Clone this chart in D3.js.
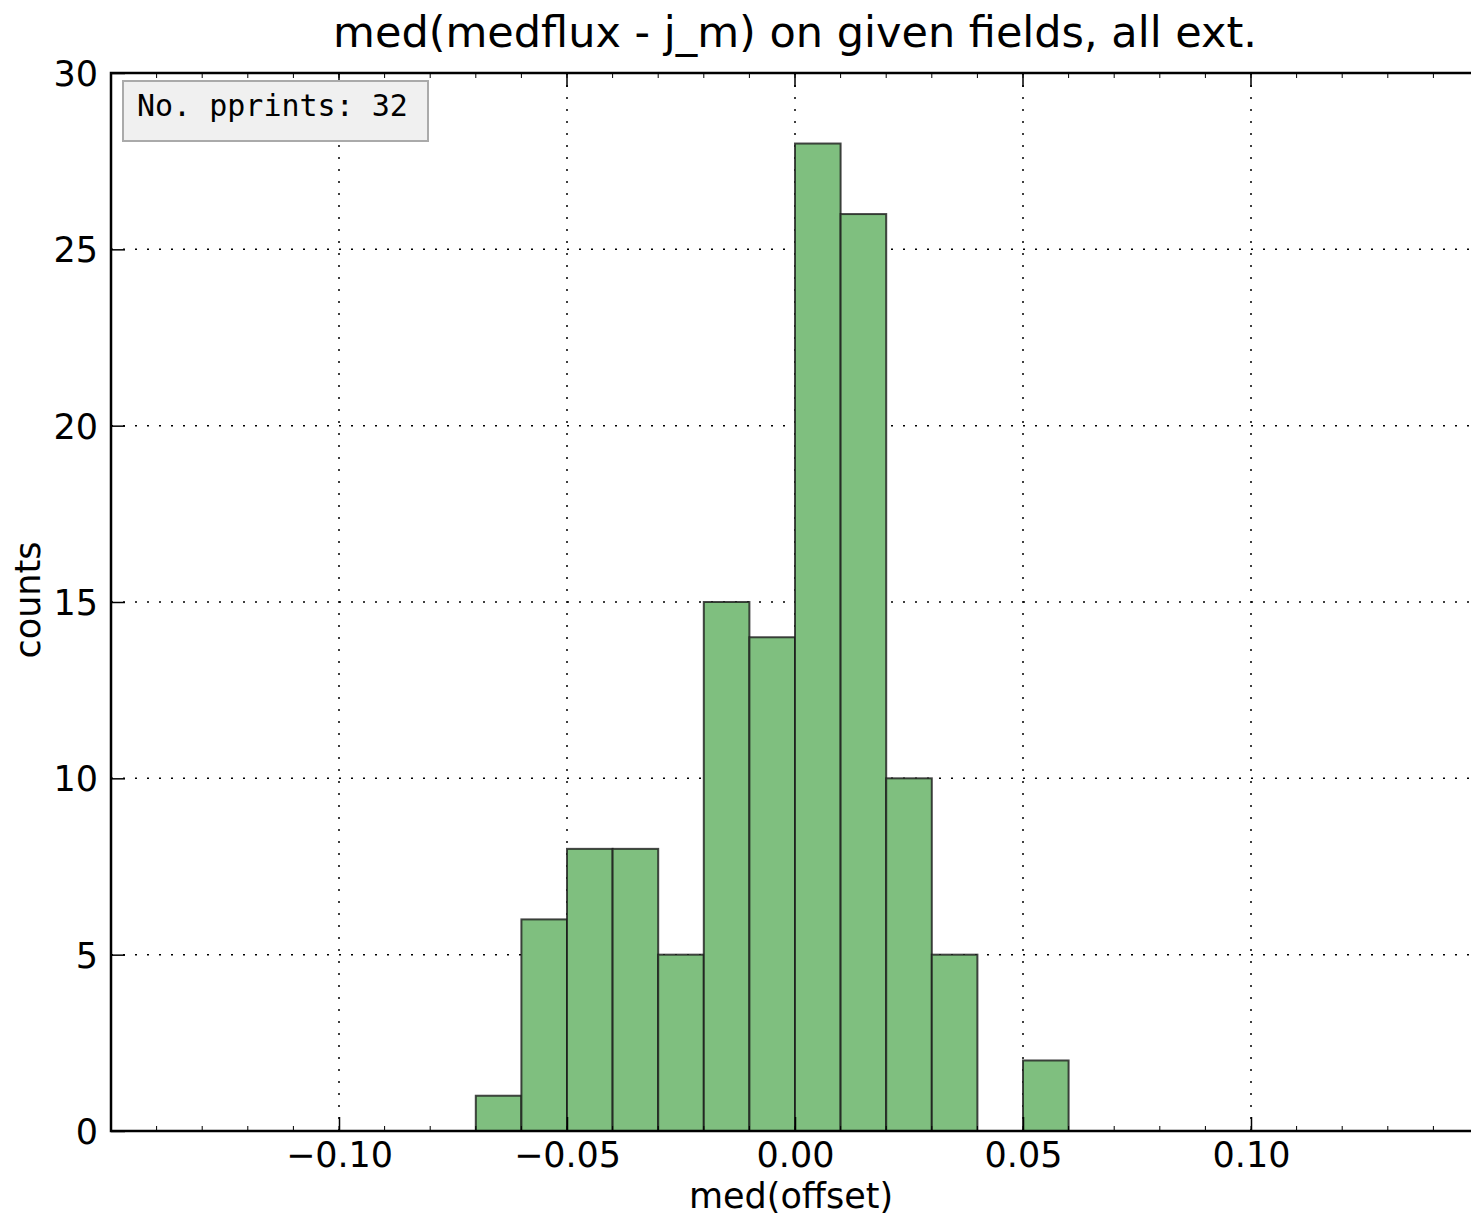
<!DOCTYPE html>
<html>
<head>
<meta charset="utf-8">
<script src="https://cdn.jsdelivr.net/npm/d3@7"></script>
<style>
  body { margin: 0; background: #fff; }
  svg { display: block; }
</style>
</head>
<body>
<div id="app"></div>
<script>
const WIDTH = 1471
const HEIGHT = 1218

// histogram bins (left edges) and counts
const binEdges = [-0.07, -0.06, -0.05, -0.04, -0.03, -0.02, -0.01, 0.00, 0.01, 0.02, 0.03, 0.04, 0.05, 0.06]
const counts = [1, 6, 8, 8, 5, 15, 14, 28, 26, 10, 5, 0, 2]
const xTicks = [-0.10, -0.05, 0.00, 0.05, 0.10]
const yTicks = [0, 5, 10, 15, 20, 25, 30]

const SANS = '"DejaVu Sans", sans-serif'
const MONO = '"DejaVu Sans Mono", monospace'

const margin = { left: 111, top: 73, right: 1479, bottom: 1131 }

const x = d3.scaleLinear()
  .domain([-0.15, 0.15])
  .range([margin.left, margin.right])

const y = d3.scaleLinear()
  .domain([0, 30])
  .range([margin.bottom, margin.top])

const svg = d3.select('#app').append('svg')
  .attr('width', WIDTH)
  .attr('height', HEIGHT)

// grid (behind bars)
const grid = svg.append('g')
grid.selectAll('.gx')
  .data(xTicks)
  .enter().append('line')
  .attr('x1', d => x(d)).attr('x2', d => x(d))
  .attr('y1', margin.top).attr('y2', margin.bottom)
grid.selectAll('.gy')
  .data(yTicks.slice(1, -1))
  .enter().append('line')
  .attr('x1', margin.left).attr('x2', margin.right)
  .attr('y1', d => y(d)).attr('y2', d => y(d))
grid.selectAll('line')
  .attr('stroke', '#000')
  .attr('stroke-width', 1.5)
  .attr('stroke-dasharray', '2,10')

// bars
const bins = counts.map((c, i) => ({ x0: binEdges[i], x1: binEdges[i + 1], n: c }))
svg.append('g').selectAll('rect')
  .data(bins.filter(d => d.n > 0))
  .enter().append('rect')
  .attr('x', d => x(d.x0))
  .attr('width', d => x(d.x1) - x(d.x0))
  .attr('y', d => y(d.n))
  .attr('height', d => y(0) - y(d.n))
  .attr('fill', '#7fbf7f')
  .attr('stroke', '#1a1a1a')
  .attr('stroke-opacity', 0.8)
  .attr('stroke-width', 2)

// axes with inward ticks (bottom/top/left)
const minorX = d3.range(-15, 16).map(d => d / 100)

const bottomAxis = d3.axisBottom(x)
  .tickValues(xTicks)
  .tickSize(-14)
  .tickPadding(11)
  .tickFormat(d => d3.format('.2f')(d).replace('-', '\u2212'))

const gx = svg.append('g')
  .attr('transform', 'translate(0,' + margin.bottom + ')')
  .call(bottomAxis)

gx.selectAll('.minor')
  .data(minorX)
  .enter().append('line')
  .attr('x1', d => x(d)).attr('x2', d => x(d))
  .attr('y1', 0).attr('y2', -5)
  .attr('stroke', '#000')

const gTop = svg.append('g')
  .attr('transform', 'translate(0,' + margin.top + ')')
gTop.selectAll('.major')
  .data(xTicks)
  .enter().append('line')
  .attr('x1', d => x(d)).attr('x2', d => x(d))
  .attr('y1', 0).attr('y2', 14)
  .attr('stroke', '#000')
  .attr('stroke-width', 1.5)
gTop.selectAll('.minor')
  .data(minorX)
  .enter().append('line')
  .attr('x1', d => x(d)).attr('x2', d => x(d))
  .attr('y1', 0).attr('y2', 5)
  .attr('stroke', '#000')

const leftAxis = d3.axisLeft(y)
  .tickValues(yTicks)
  .tickSize(-14)
  .tickPadding(13)
  .tickFormat(d3.format('d'))

const gy = svg.append('g')
  .attr('transform', 'translate(' + margin.left + ',0)')
  .call(leftAxis)

svg.selectAll('.domain').remove()
svg.selectAll('.tick line').attr('stroke', '#000').attr('stroke-width', 1.5)
svg.selectAll('.tick text')
  .attr('font-family', SANS)
  .attr('font-size', 35)
  .attr('fill', '#000')
gy.selectAll('.tick text').attr('dy', '0.36em')

// frame
svg.append('rect')
  .attr('x', margin.left)
  .attr('y', margin.top)
  .attr('width', margin.right - margin.left)
  .attr('height', margin.bottom - margin.top)
  .attr('fill', 'none')
  .attr('stroke', '#000')
  .attr('stroke-width', 2.5)

// legend box
const lg = svg.append('g')
lg.append('rect')
  .attr('x', 123).attr('y', 81)
  .attr('width', 305).attr('height', 60)
  .attr('fill', '#f0f0f0')
  .attr('stroke', '#aaa')
  .attr('stroke-width', 2)
lg.append('text')
  .attr('x', 137).attr('y', 116)
  .style('font-family', MONO)
  .attr('font-size', 30)
  .text('No. pprints: 32')

// title and labels
svg.append('text')
  .attr('x', 795).attr('y', 47)
  .attr('text-anchor', 'middle')
  .style('font-family', SANS)
  .attr('font-size', 43)
  .text('med(medflux - j_m) on given fields, all ext.')

svg.append('text')
  .attr('x', 791).attr('y', 1208)
  .attr('text-anchor', 'middle')
  .style('font-family', SANS)
  .attr('font-size', 35)
  .text('med(offset)')

svg.append('text')
  .attr('transform', 'translate(40,600) rotate(-90)')
  .attr('text-anchor', 'middle')
  .style('font-family', SANS)
  .attr('font-size', 35)
  .text('counts')
</script>
</body>
</html>
